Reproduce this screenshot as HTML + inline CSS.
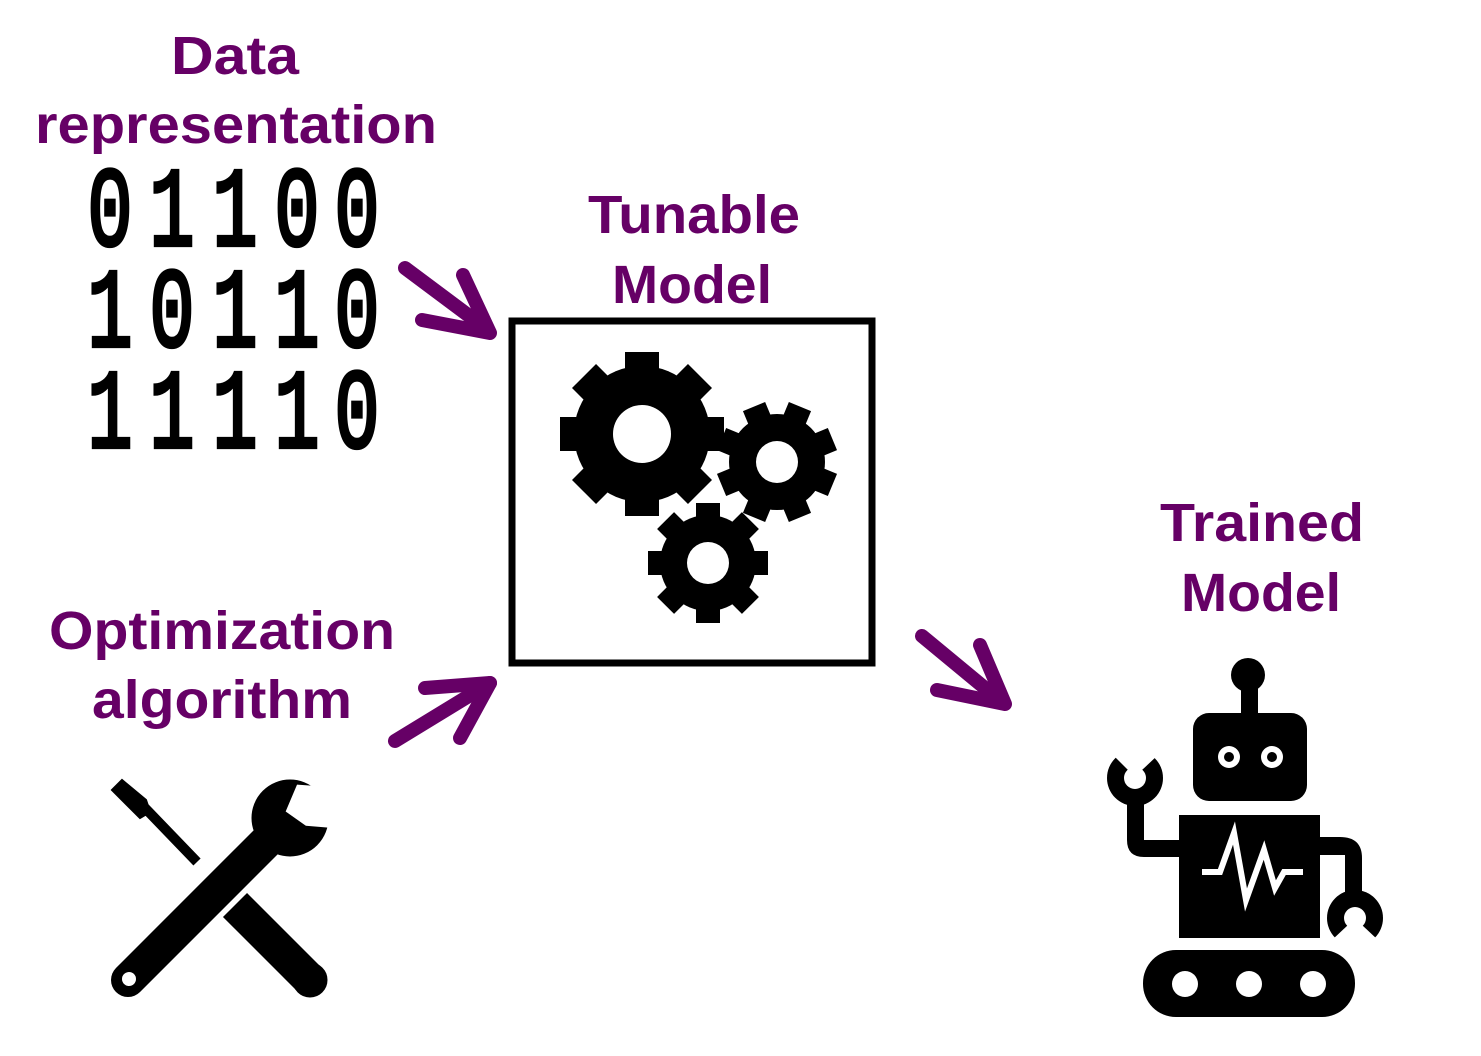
<!DOCTYPE html>
<html><head><meta charset="utf-8"><style>
html,body{margin:0;padding:0;background:#fff;}
svg{display:block}
.t{font-family:"Comic Sans MS","Liberation Sans",sans-serif;font-weight:bold;fill:#660066;font-size:54px}
.b{font-family:"Liberation Mono",monospace;font-size:104px;fill:#000;stroke:#000;stroke-width:4;text-anchor:middle}
</style></head><body>
<svg width="1481" height="1056" viewBox="0 0 1481 1056" xmlns="http://www.w3.org/2000/svg">
<text class="t" x="235" y="74" text-anchor="middle" textLength="128" lengthAdjust="spacingAndGlyphs">Data</text>
<text class="t" x="236" y="143" text-anchor="middle" textLength="402" lengthAdjust="spacingAndGlyphs">representation</text>
<g class="b">
<g transform="translate(0,245) scale(1,1.08)">
<text transform="translate(110,0) scale(0.72,1)">0</text><text transform="translate(172,0) scale(0.72,1)">1</text><text transform="translate(235,0) scale(0.72,1)">1</text><text transform="translate(297,0) scale(0.72,1)">0</text><text transform="translate(357,0) scale(0.72,1)">0</text>
</g>
<g transform="translate(0,346) scale(1,1.08)">
<text transform="translate(110,0) scale(0.72,1)">1</text><text transform="translate(172,0) scale(0.72,1)">0</text><text transform="translate(235,0) scale(0.72,1)">1</text><text transform="translate(297,0) scale(0.72,1)">1</text><text transform="translate(357,0) scale(0.72,1)">0</text>
</g>
<g transform="translate(0,447) scale(1,1.08)">
<text transform="translate(110,0) scale(0.72,1)">1</text><text transform="translate(172,0) scale(0.72,1)">1</text><text transform="translate(235,0) scale(0.72,1)">1</text><text transform="translate(297,0) scale(0.72,1)">1</text><text transform="translate(357,0) scale(0.72,1)">0</text>
</g>
</g>
<text class="t" x="694" y="233" text-anchor="middle" textLength="212" lengthAdjust="spacingAndGlyphs">Tunable</text>
<text class="t" x="692" y="303" text-anchor="middle" textLength="160" lengthAdjust="spacingAndGlyphs">Model</text>
<text class="t" x="222" y="649" text-anchor="middle" textLength="346" lengthAdjust="spacingAndGlyphs">Optimization</text>
<text class="t" x="222" y="718" text-anchor="middle" textLength="260" lengthAdjust="spacingAndGlyphs">algorithm</text>
<text class="t" x="1262" y="541" text-anchor="middle" textLength="204" lengthAdjust="spacingAndGlyphs">Trained</text>
<text class="t" x="1261" y="611" text-anchor="middle" textLength="160" lengthAdjust="spacingAndGlyphs">Model</text>

<rect x="512" y="321" width="360" height="342" fill="none" stroke="#000" stroke-width="7"/>

<g transform="translate(642,434)">
<circle r="68" fill="#000"/>
<g fill="#000"><rect x="-17" y="-82" width="34" height="30"/><rect x="-17" y="-82" width="34" height="30" transform="rotate(45)"/><rect x="-17" y="-82" width="34" height="30" transform="rotate(90)"/><rect x="-17" y="-82" width="34" height="30" transform="rotate(135)"/><rect x="-17" y="-82" width="34" height="30" transform="rotate(180)"/><rect x="-17" y="-82" width="34" height="30" transform="rotate(225)"/><rect x="-17" y="-82" width="34" height="30" transform="rotate(270)"/><rect x="-17" y="-82" width="34" height="30" transform="rotate(315)"/></g>
<circle r="29" fill="#fff"/>
</g>
<g transform="translate(777,462)">
<circle r="48" fill="#000"/>
<g fill="#000"><rect x="-12" y="-60" width="24" height="22" transform="rotate(22.5)"/><rect x="-12" y="-60" width="24" height="22" transform="rotate(67.5)"/><rect x="-12" y="-60" width="24" height="22" transform="rotate(112.5)"/><rect x="-12" y="-60" width="24" height="22" transform="rotate(157.5)"/><rect x="-12" y="-60" width="24" height="22" transform="rotate(202.5)"/><rect x="-12" y="-60" width="24" height="22" transform="rotate(247.5)"/><rect x="-12" y="-60" width="24" height="22" transform="rotate(292.5)"/><rect x="-12" y="-60" width="24" height="22" transform="rotate(337.5)"/></g>
<circle r="21" fill="#fff"/>
</g>
<g transform="translate(708,563)">
<circle r="48" fill="#000"/>
<g fill="#000"><rect x="-12" y="-60" width="24" height="22"/><rect x="-12" y="-60" width="24" height="22" transform="rotate(45)"/><rect x="-12" y="-60" width="24" height="22" transform="rotate(90)"/><rect x="-12" y="-60" width="24" height="22" transform="rotate(135)"/><rect x="-12" y="-60" width="24" height="22" transform="rotate(180)"/><rect x="-12" y="-60" width="24" height="22" transform="rotate(225)"/><rect x="-12" y="-60" width="24" height="22" transform="rotate(270)"/><rect x="-12" y="-60" width="24" height="22" transform="rotate(315)"/></g>
<circle r="21" fill="#fff"/>
</g>

<g stroke="#660066" stroke-width="14" stroke-linecap="round" stroke-linejoin="round" fill="none">
<path d="M405,268 L488,330"/><path d="M463,275 L490,333 L422,320"/>
<path d="M395,741 L490,683"/><path d="M425,688 L490,683 L460,738"/>
<path d="M922,636 L1003,703"/><path d="M980,645 L1005,704 L937,690"/>
</g>

<g fill="#000" stroke="#000" stroke-linecap="round">
<path d="M128,980 L290,818" stroke-width="34" fill="none"/>
<circle cx="290" cy="818" r="38"/>
<path d="M235,905 L310,980" stroke-width="34" fill="none" stroke-linecap="butt"/>
<circle cx="310" cy="980" r="17"/>
<path d="M145,808 L197,862" stroke-width="10" fill="none" stroke-linecap="butt"/>
<path d="M112,790 L122,780 L146,800 L150,812 L140,818 L128,806 Z" stroke-width="2"/>
</g>
<path d="M300,783 L333,790 L325,830 L303,825 L285,808 Z" fill="#fff" transform="rotate(-8 310 805)"/>
<circle cx="129" cy="979" r="7" fill="#fff"/>

<g fill="#000">
<circle cx="1248" cy="675" r="17"/>
<rect x="1241" y="680" width="17" height="35"/>
<rect x="1193" y="713" width="114" height="88" rx="16"/>
<rect x="1179" y="815" width="141" height="123"/>
<rect x="1143" y="950" width="212" height="67" rx="33"/>
<path d="M1180,857 L1144,857 Q1127,857 1127,840 L1127,795 L1144,795 L1144,840 L1180,840 Z"/>
<circle cx="1135" cy="778" r="28"/>
<path d="M1320,837 L1340,837 Q1362,837 1362,858 L1362,900 L1345,900 L1345,855 L1320,855 Z"/>
<circle cx="1355" cy="918" r="28"/>
</g>
<path d="M1113,755 L1128,770 L1142,770 L1158,755 L1158,735 L1113,735 Z" fill="#fff"/>
<circle cx="1135" cy="778" r="11" fill="#fff"/>
<path d="M1332,940 L1348,925 L1362,925 L1378,940 L1378,948 L1332,948 Z" fill="#fff"/>
<circle cx="1355" cy="918" r="11" fill="#fff"/>
<circle cx="1229" cy="757" r="11" fill="#fff"/><circle cx="1229" cy="757" r="5" fill="#000"/>
<circle cx="1272" cy="757" r="11" fill="#fff"/><circle cx="1272" cy="757" r="5" fill="#000"/>
<path d="M1202,872 L1220,872 L1234,833 L1246,900 L1264,850 L1275,888 L1284,872 L1303,872" fill="none" stroke="#fff" stroke-width="6" stroke-linejoin="miter"/>
<circle cx="1185" cy="984" r="13" fill="#fff"/>
<circle cx="1249" cy="984" r="13" fill="#fff"/>
<circle cx="1313" cy="984" r="13" fill="#fff"/>
</svg>
</body></html>
